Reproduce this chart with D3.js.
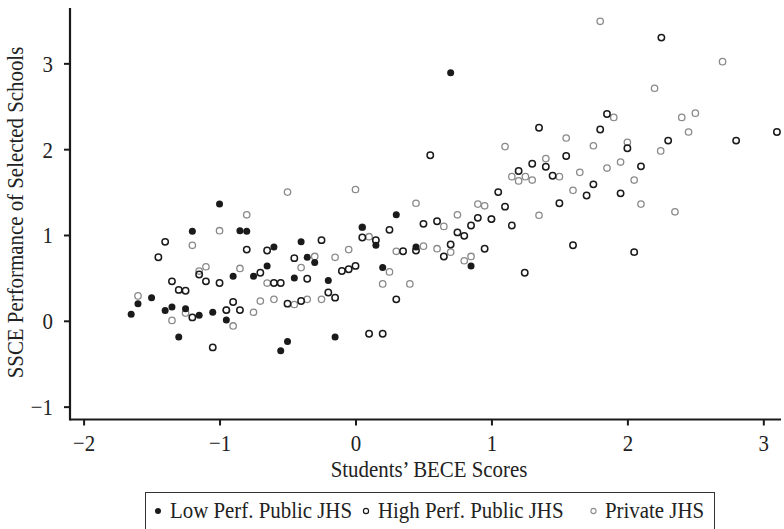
<!DOCTYPE html>
<html>
<head>
<meta charset="utf-8">
<script src="https://cdn.jsdelivr.net/npm/d3@7"></script>
<style>
  html, body { margin: 0; padding: 0; background: #fff; }
  svg { display: block; }
  text { font-family: "Liberation Serif", "DejaVu Serif", serif; }
</style>
</head>
<body>
<svg id="chart" width="784" height="529"></svg>
<script>
// ---- data (x = BECE score, y = SSCE performance) ----
const lowX = [-1.65,-1.60,-1.50,-1.40,-1.35,-1.30,-1.25,-1.20,-1.15,-1.05,-1.00,-0.95,-0.90,-0.85,-0.80,-0.75,-0.65,-0.60,-0.55,-0.50,-0.45,-0.40,-0.355,-0.30,-0.20,-0.15,0.05,0.15,0.20,0.30,0.445,0.70,0.85];
const lowY = [0.075,0.20,0.27,0.12,0.16,-0.19,0.14,1.045,0.066,0.10,1.36,0.01,0.52,1.05,1.045,0.52,0.64,0.86,-0.35,-0.24,0.50,0.92,0.74,0.68,0.47,-0.19,1.09,0.88,0.62,1.235,0.86,2.89,0.64];

const highX = [-1.45,-1.40,-1.35,-1.30,-1.25,-1.20,-1.15,-1.10,-1.05,-1.00,-0.95,-0.90,-0.85,-0.80,-0.70,-0.65,-0.60,-0.55,-0.50,-0.45,-0.40,-0.355,-0.25,-0.20,-0.15,-0.10,-0.05,0.00,0.05,0.10,0.15,0.20,0.25,0.30,0.35,0.445,0.50,0.55,0.60,0.65,0.70,0.75,0.80,0.85,0.90,0.95,1.00,1.05,1.10,1.15,1.20,1.245,1.30,1.35,1.40,1.45,1.50,1.55,1.60,1.70,1.75,1.80,1.85,1.95,2.00,2.05,2.10,2.25,2.30,2.80,3.10];
const highY = [0.74,0.92,0.46,0.36,0.35,0.04,0.54,0.46,-0.31,0.44,0.125,0.22,0.125,0.83,0.56,0.82,0.44,0.44,0.20,0.73,0.23,0.49,0.94,0.33,0.27,0.58,0.60,0.64,0.97,-0.15,0.94,-0.15,1.06,0.25,0.81,0.82,1.13,1.93,1.16,0.75,0.89,1.03,0.99,1.11,1.20,0.84,1.185,1.50,1.33,1.11,1.745,0.56,1.83,2.25,1.795,1.69,1.37,1.92,0.88,1.46,1.59,2.23,2.41,1.485,2.01,0.80,1.80,3.30,2.10,2.10,2.20];

const privX = [-1.60,-1.35,-1.25,-1.20,-1.15,-1.10,-1.00,-0.95,-0.90,-0.85,-0.80,-0.75,-0.70,-0.65,-0.60,-0.50,-0.45,-0.40,-0.355,-0.30,-0.25,-0.15,-0.05,0.00,0.05,0.10,0.20,0.25,0.30,0.40,0.445,0.50,0.60,0.65,0.70,0.75,0.80,0.85,0.90,0.95,1.00,1.10,1.15,1.20,1.25,1.30,1.35,1.40,1.50,1.55,1.60,1.65,1.75,1.80,1.85,1.90,1.95,2.00,2.05,2.10,2.20,2.245,2.35,2.40,2.45,2.50,2.70];
const privY = [0.29,0.005,0.09,0.88,0.58,0.63,1.05,0.125,-0.06,0.61,1.235,0.10,0.23,0.44,0.25,1.50,0.19,0.62,0.25,0.75,0.25,0.74,0.83,1.53,1.09,0.98,0.43,0.57,0.81,0.43,1.37,0.87,0.84,1.10,0.80,1.235,0.70,0.75,1.36,1.34,1.185,2.03,1.68,1.63,1.68,1.64,1.23,1.89,1.68,2.13,1.52,1.73,2.04,3.49,1.78,2.37,1.85,2.08,1.64,1.36,2.71,1.98,1.27,2.37,2.20,2.42,3.02];

const xTicks = [-2,-1,0,1,2,3];
const yTicks = [-1,0,1,2,3];
const seriesNames = ["Low Perf. Public JHS","High Perf. Public JHS","Private JHS"];

(function () {
// ---- layout ----
const svg = d3.select("#chart");
const mLeft = 70, mRight = 781, mTop = 8, mBottom = 419.5;
const x = d3.scaleLinear().domain([-2.1, 3.13]).range([mLeft, mRight]);
const y = d3.scaleLinear().domain([-1.15, 3.645]).range([mBottom, mTop]);

const axisColor = "#1a1a1a";
const FS = 24, SX = 0.87;   // serif text, slightly condensed

// axes
const gx = svg.append("g").attr("transform", `translate(0,${mBottom})`)
  .call(d3.axisBottom(x).tickValues(xTicks).tickSize(6).tickFormat(d3.format("d")));
const gy = svg.append("g").attr("transform", `translate(${mLeft},0)`)
  .call(d3.axisLeft(y).tickValues(yTicks).tickSize(6).tickFormat(d3.format("d")));

[gx, gy].forEach(g => {
  g.select(".domain").remove();
  g.selectAll(".tick line").attr("stroke", axisColor).attr("stroke-width", 2);
  g.selectAll(".tick text").attr("fill", "#222").style("font-size", FS + "px")
    .style("font-family", "'Liberation Serif', serif")
    .attr("x", 0).attr("y", 0).attr("dy", null);
});
gx.selectAll(".tick text").attr("text-anchor", "middle")
  .attr("transform", `translate(0,${451 - mBottom}) scale(${SX},1)`);
gy.selectAll(".tick text").attr("text-anchor", "end")
  .attr("transform", `translate(${53 - mLeft},8) scale(${SX},1)`);

svg.append("line").attr("x1", mLeft).attr("x2", mRight).attr("y1", mBottom).attr("y2", mBottom)
  .attr("stroke", axisColor).attr("stroke-width", 2.2);
svg.append("line").attr("x1", mLeft).attr("x2", mLeft).attr("y1", mTop).attr("y2", mBottom + 1.1)
  .attr("stroke", axisColor).attr("stroke-width", 2.2);

// axis titles
svg.append("text").attr("transform", `translate(429,477) scale(${SX},1)`).attr("text-anchor", "middle")
  .attr("fill", "#222").style("font-size", FS + "px").text("Students\u2019 BECE Scores");
svg.append("text").attr("transform", `translate(23,212.5) rotate(-90) scale(${SX},1)`).attr("text-anchor", "middle")
  .attr("fill", "#222").style("font-size", FS + "px").text("SSCE Performance of Selected Schools");

// points
const mk = (xs, ys) => xs.map((v, i) => ({x: v, y: ys[i]}));
const plot = svg.append("g");
plot.selectAll(".priv").data(mk(privX, privY)).enter().append("circle")
  .attr("cx", d => x(d.x)).attr("cy", d => y(d.y)).attr("r", 3.2)
  .attr("fill", "none").attr("stroke", "#8a8a8a").attr("stroke-width", 1.3);
plot.selectAll(".high").data(mk(highX, highY)).enter().append("circle")
  .attr("cx", d => x(d.x)).attr("cy", d => y(d.y)).attr("r", 3.2)
  .attr("fill", "none").attr("stroke", "#1a1a1a").attr("stroke-width", 1.5);
plot.selectAll(".low").data(mk(lowX, lowY)).enter().append("circle")
  .attr("cx", d => x(d.x)).attr("cy", d => y(d.y)).attr("r", 3.5)
  .attr("fill", "#1a1a1a").attr("stroke", "none");

// legend
const lg = svg.append("g");
lg.append("rect").attr("x", 145.5).attr("y", 492.5).attr("width", 569).attr("height", 37)
  .attr("fill", "#fff").attr("stroke", "#333").attr("stroke-width", 1);
const items = [
  {name: seriesNames[0], mx: 158, tx: 170, fill: "#1a1a1a", stroke: "none", sw: 0},
  {name: seriesNames[1], mx: 366, tx: 378, fill: "none", stroke: "#1a1a1a", sw: 1.2},
  {name: seriesNames[2], mx: 593.5, tx: 605, fill: "none", stroke: "#8a8a8a", sw: 1.1}
];
items.forEach(it => {
  lg.append("circle").attr("cx", it.mx).attr("cy", 511).attr("r", it.sw ? 2.6 : 3)
    .attr("fill", it.fill).attr("stroke", it.stroke).attr("stroke-width", it.sw);
  lg.append("text").attr("transform", `translate(${it.tx},518) scale(${SX},1)`).attr("fill", "#222")
    .style("font-size", FS + "px").text(it.name);
});
})();
</script>
</body>
</html>
